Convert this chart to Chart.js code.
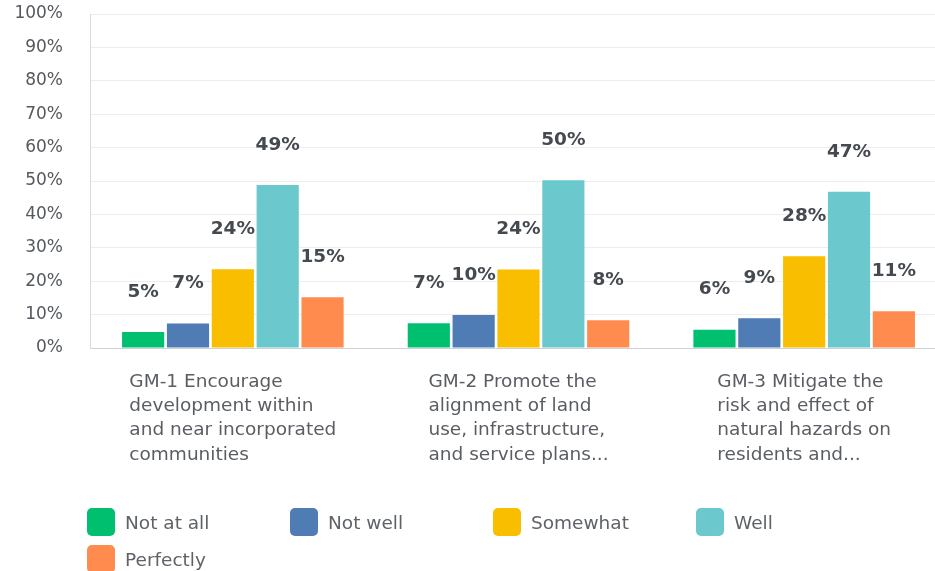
<!DOCTYPE html>
<html>
<head>
<meta charset="utf-8">
<script src="https://cdn.jsdelivr.net/npm/chart.js@4/dist/chart.umd.min.js"></script>
<style>
  html, body { margin: 0; padding: 0; background: #ffffff; overflow: hidden; }
  #wrap { position: relative; width: 935px; height: 571px; overflow: hidden; }
  #chartBox { position: absolute; left: 0; top: 0; width: 947px; height: 490px; }
  #legend { position: absolute; left: 0; top: 0; width: 935px; height: 571px; pointer-events: none; }
  .item { position: absolute; display: flex; align-items: center; font-family: "DejaVu Sans", sans-serif; font-size: 18.5px; color: #5f6368; white-space: nowrap; }
  .box { width: 28px; height: 28px; border-radius: 5px; margin-right: 10px; }
</style>
</head>
<body>
<div id="wrap">
  <div id="chartBox"><canvas id="c" width="947" height="490"></canvas></div>
  <div id="legend"></div>
</div>
<script>
// ---- Data ----
const categories = [
  ["GM-1 Encourage", "development within", "and near incorporated", "communities"],
  ["GM-2 Promote the", "alignment of land", "use, infrastructure,", "and service plans..."],
  ["GM-3 Mitigate the", "risk and effect of", "natural hazards on", "residents and..."]
];
const seriesNames = ["Not at all", "Not well", "Somewhat", "Well", "Perfectly"];
const notAtAll  = [4.8, 7.4, 5.5];
const notWell   = [7.3, 9.9, 8.9];
const somewhat  = [23.6, 23.5, 27.5];
const well      = [48.8, 50.2, 46.8];
const perfectly = [15.2, 8.3, 11.0];
const yTicks = [0, 10, 20, 30, 40, 50, 60, 70, 80, 90, 100];

const seriesValues = [notAtAll, notWell, somewhat, well, perfectly];
const colors = ["#00bf6f", "#507cb6", "#f9be00", "#6bc8cd", "#ff8b4f"];

const datasets = seriesNames.map((name, i) => ({
  label: name,
  data: seriesValues[i],
  backgroundColor: colors[i],
  borderWidth: 0,
  categoryPercentage: 0.785,
  barPercentage: 0.94
}));

const valueLabels = {
  id: "valueLabels",
  afterDatasetsDraw(chart) {
    const ctx = chart.ctx;
    ctx.save();
    ctx.font = "bold 18.5px 'DejaVu Sans', sans-serif";
    ctx.fillStyle = "#454a50";
    ctx.textAlign = "center";
    ctx.textBaseline = "middle";
    chart.data.datasets.forEach((ds, di) => {
      const meta = chart.getDatasetMeta(di);
      meta.data.forEach((bar, i) => {
        ctx.fillText(Math.round(ds.data[i]) + "%", bar.x, bar.y - 40);
      });
    });
    ctx.restore();
  }
};

const catLabels = {
  id: "catLabels",
  afterDraw(chart) {
    const ctx = chart.ctx;
    const xs = chart.scales.x;
    const base = chart.chartArea.bottom;
    ctx.save();
    ctx.font = "18.5px 'DejaVu Sans', sans-serif";
    ctx.fillStyle = "#5a5e63";
    ctx.textAlign = "left";
    ctx.textBaseline = "middle";
    categories.forEach((lines, i) => {
      const cx = xs.getPixelForTick(i);
      let w = 0;
      lines.forEach(l => { w = Math.max(w, ctx.measureText(l).width); });
      const x0 = cx - w / 2;
      lines.forEach((l, j) => {
        ctx.fillText(l, x0, base + 34 + j * 24.3);
      });
    });
    ctx.restore();
  }
};

new Chart(document.getElementById("c"), {
  type: "bar",
  data: { labels: categories.map(c => c.join(" ")), datasets },
  options: {
    responsive: false,
    animation: false,
    layout: { padding: { top: 14, right: 0, bottom: 0, left: 0 } },
    plugins: { legend: { display: false }, tooltip: { enabled: false } },
    scales: {
      x: {
        ticks: { display: false },
        grid: { display: false, drawTicks: false },
        border: { display: true, color: "#cfd1d3", width: 1 },
        afterFit(scale) { scale.height = 142; }
      },
      y: {
        min: 0, max: 100,
        afterBuildTicks(scale) { scale.ticks = yTicks.map(v => ({ value: v })); },
        ticks: {
          padding: 27,
          color: "#55595e",
          font: { family: "'DejaVu Sans', sans-serif", size: 17 },
          callback: v => v + "%"
        },
        grid: { color: "#ededed", lineWidth: 1, drawTicks: false },
        border: { display: true, color: "#d9dadb", width: 1 },
        afterFit(scale) { scale.width = 90; scale.paddingTop = 0; scale.paddingBottom = 0; }
      }
    }
  },
  plugins: [valueLabels, catLabels]
});

// HTML legend built from series arrays
const legend = document.getElementById("legend");
const colX = [87, 290, 493, 696];
seriesNames.forEach((name, i) => {
  const row = Math.floor(i / 4), col = i % 4;
  const el = document.createElement("div");
  el.className = "item";
  el.style.left = colX[col] + "px";
  el.style.top = (508 + row * 37) + "px";
  el.innerHTML = '<div class="box" style="background:' + colors[i] + '"></div><span>' + name + '</span>';
  legend.appendChild(el);
});
</script>
</body>
</html>
